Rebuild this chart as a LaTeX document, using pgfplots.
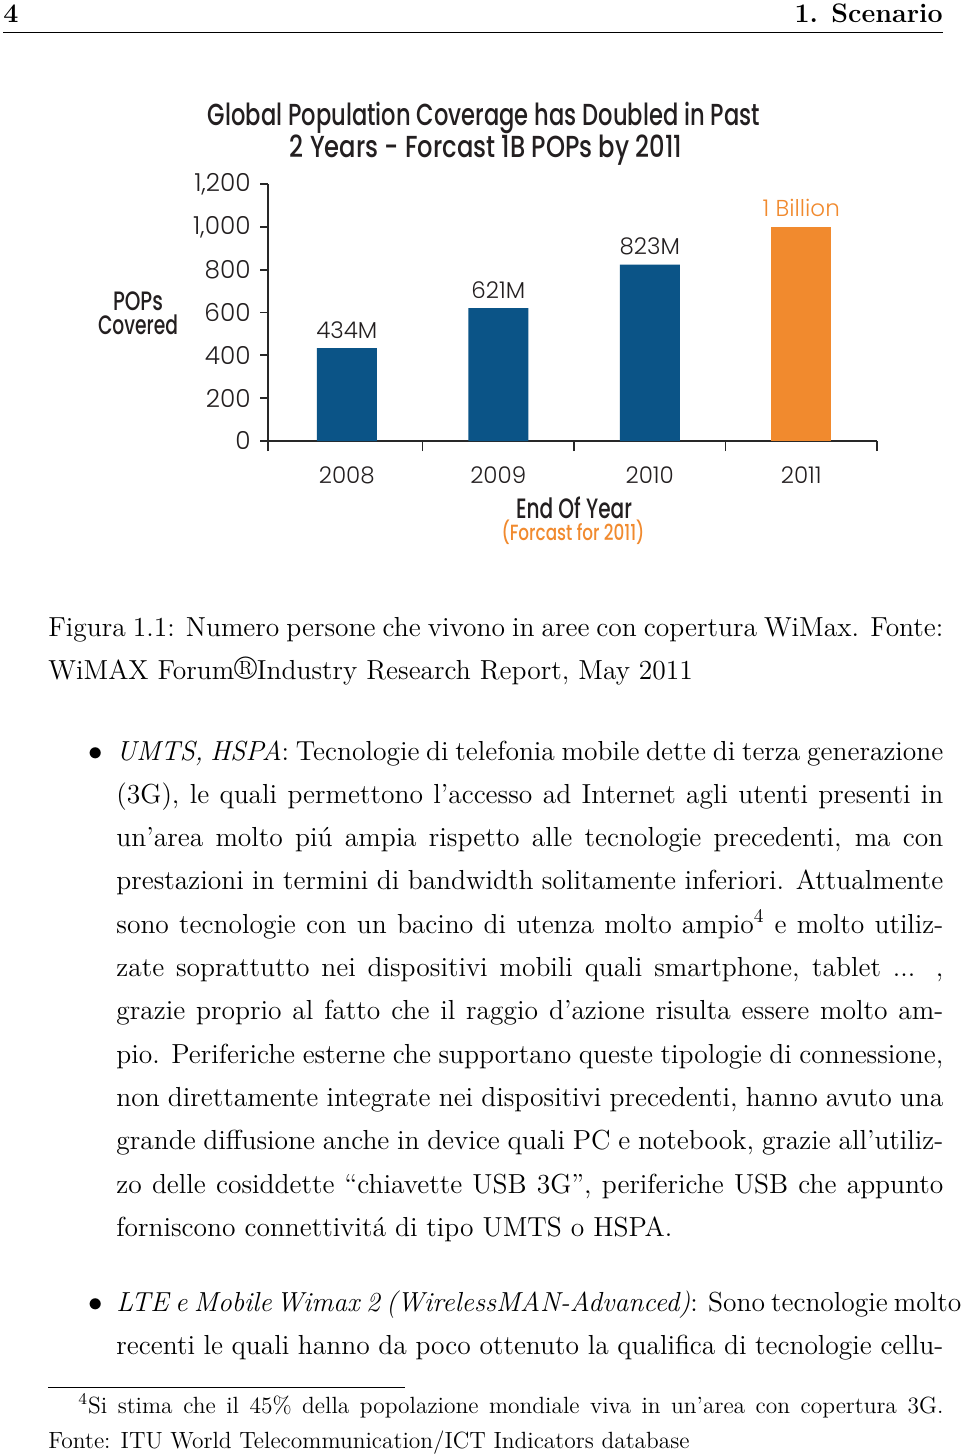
\documentclass[border=0pt]{standalone}
\usepackage{pgfplots}
\pgfplotsset{compat=1.18}
\usepackage{graphicx}
\usepackage{fontspec}
\newfontfamily\cl{Poppins Light}
\newfontfamily\cm{Poppins Medium}
\definecolor{barblue}{RGB}{11,84,135}
\definecolor{barorange}{RGB}{241,138,46}
\definecolor{ink}{RGB}{35,31,32}
\definecolor{axisgray}{RGB}{40,40,40}
\newcommand\jl[1]{\hbox to \linewidth{#1}}
\newcommand\lastl[1]{\hbox to \linewidth{#1\hfil}}
\newcommand\bodyfont{\fontsize{13.76}{21.65}\selectfont}
\begin{document}
\begin{tikzpicture}
\useasboundingbox (0,0) rectangle (480pt,-727.5pt);
\fill[white] (0,0) rectangle (480pt,-727.5pt);
\begin{scope}[x=0.5pt,y=-0.5pt]
% header
\node[anchor=base west, inner sep=0] at (3,23) {\fontsize{13.4}{16}\selectfont\bfseries 4};
\node[anchor=base east, inner sep=0] at (943,23) {\fontsize{13.4}{16}\selectfont\bfseries 1. Scenario};
\draw[line width=0.5pt] (3,33) -- (943,33);
% chart texts
\node[anchor=base, inner sep=0, text=ink] at (484,126) {\cm\fontsize{15.2}{18}\selectfont\resizebox{276pt}{\height}{Global Population Coverage has Doubled in Past}};
\node[anchor=base, inner sep=0, text=ink] at (486,158) {\cm\fontsize{15.2}{18}\selectfont\resizebox{196pt}{\height}{2 Years - Forcast 1B POPs by 2011}};
\node[anchor=base, inner sep=0, text=ink] at (138,311) {\cm\fontsize{13.3}{15}\selectfont\resizebox{25pt}{\height}{POPs}};
\node[anchor=base, inner sep=0, text=ink] at (138,335) {\cm\fontsize{13.3}{15}\selectfont\resizebox{40pt}{\height}{Covered}};
\node[anchor=base, inner sep=0, text=ink] at (574,518) {\cm\fontsize{14}{16}\selectfont\resizebox{58pt}{\height}{End Of Year}};
\node[anchor=base, inner sep=0, text=barorange] at (573,540) {\cm\fontsize{11}{13}\selectfont\resizebox{71.5pt}{\height}{(Forcast for 2011)}};
% caption
\node[anchor=base west, inner sep=0] at (48,636) {\begin{minipage}[t]{447.5pt}\bodyfont
\jl{Figura 1.1: Numero persone che vivono in aree con copertura WiMax. Fonte:}
\lastl{WiMAX Forum\scalebox{1.2}{\textregistered}Industry Research Report, May 2011}
\end{minipage}};
% bullet 1
\node[anchor=base, inner sep=0] at (96,760) {\bodyfont$\bullet$};
\node[anchor=base west, inner sep=0] at (116,760) {\begin{minipage}[t]{413.5pt}\bodyfont
\jl{\textit{UMTS, HSPA}: Tecnologie di telefonia mobile dette di terza generazione}
\jl{(3G), le quali permettono l'accesso ad Internet agli utenti presenti in}
\jl{un'area molto piú ampia rispetto alle tecnologie precedenti, ma con}
\jl{prestazioni in termini di bandwidth solitamente inferiori. Attualmente}
\jl{sono tecnologie con un bacino di utenza molto ampio\textsuperscript{4} e molto utiliz-}
\jl{zate soprattutto nei dispositivi mobili quali smartphone, tablet ... ,}
\jl{grazie proprio al fatto che il raggio d'azione risulta essere molto am-}
\jl{pio. Periferiche esterne che supportano queste tipologie di connessione,}
\jl{non direttamente integrate nei dispositivi precedenti, hanno avuto una}
\jl{grande diffusione anche in device quali PC e notebook, grazie all'utiliz-}
\jl{zo delle cosiddette “chiavette USB 3G”, periferiche USB che appunto}
\lastl{forniscono connettivitá di tipo UMTS o HSPA.}
\end{minipage}};
% bullet 2
\node[anchor=base, inner sep=0] at (96,1311) {\bodyfont$\bullet$};
\node[anchor=base west, inner sep=0] at (116,1311) {\begin{minipage}[t]{413.5pt}\bodyfont
\jl{\textit{LTE e Mobile\,Wimax 2 (WirelessMAN-Advanced)}: Sono tecnologie molto}
\jl{recenti le quali hanno da poco ottenuto la qualifica di tecnologie cellu-}
\end{minipage}};
% footnote
\draw[line width=0.4pt] (48,1387) -- (405,1387);
\node[anchor=base west, inner sep=0] at (48,1413) {\begin{minipage}[t]{447.5pt}\fontsize{11.72}{17.5}\selectfont
\jl{\kern15pt\textsuperscript{4}Si stima che il 45\% della popolazione mondiale viva in un'area con copertura 3G.}
\lastl{Fonte: ITU World Telecommunication/ICT Indicators database}
\end{minipage}};
\end{scope}
\begin{axis}[
  at={(134pt,-220.5pt)}, anchor=south west,
  scale only axis, width=304.5pt, height=128.5pt,
  xmin=-0.52, xmax=3.5, ymin=0, ymax=1200,
  axis lines=left,
  axis line style={-, line width=0.9pt, color=axisgray},
  tick align=outside,
  xtick={0,1,2,3}, xticklabels={2008,2009,2010,2011},
  minor xtick={-0.52,0.5,1.5,2.5,3.5},
  major x tick style={draw=none},
  minor x tick style={line width=0.9pt, color=axisgray},
  minor tick length=5pt,
  ytick={0,200,...,1200},
  y tick style={line width=0.9pt, color=axisgray},
  major tick length=4pt,
  /pgf/number format/assume math mode=true,
  /pgf/number format/1000 sep={,},
  tick label style={font=\cl\fontsize{11.5}{13}\selectfont, text=ink},
  yticklabel style={font=\cl\fontsize{12.4}{14}\selectfont, anchor=east, inner sep=0pt, xshift=-4.5pt},
  xticklabel style={anchor=base, inner sep=0pt, yshift=-17pt},
  clip=false,
]
\addplot[ybar, bar width=30pt, bar shift=0pt, fill=barblue, draw=none,
  point meta=explicit symbolic, nodes near coords,
  every node near coord/.append style={font=\cl\fontsize{11.5}{13}\selectfont, text=ink, anchor=base, yshift=5pt, inner sep=0pt}]
  coordinates {(0,434) [434M] (1,621) [621M] (2,823) [823M]};
\addplot[ybar, bar width=30pt, bar shift=0pt, fill=barorange, draw=none,
  point meta=explicit symbolic, nodes near coords,
  every node near coord/.append style={font=\cl\fontsize{11.5}{13}\selectfont, text=barorange, anchor=base, yshift=5pt, inner sep=0pt}]
  coordinates {(3,1000) [1 Billion]};
\end{axis}
\end{tikzpicture}
\end{document}
